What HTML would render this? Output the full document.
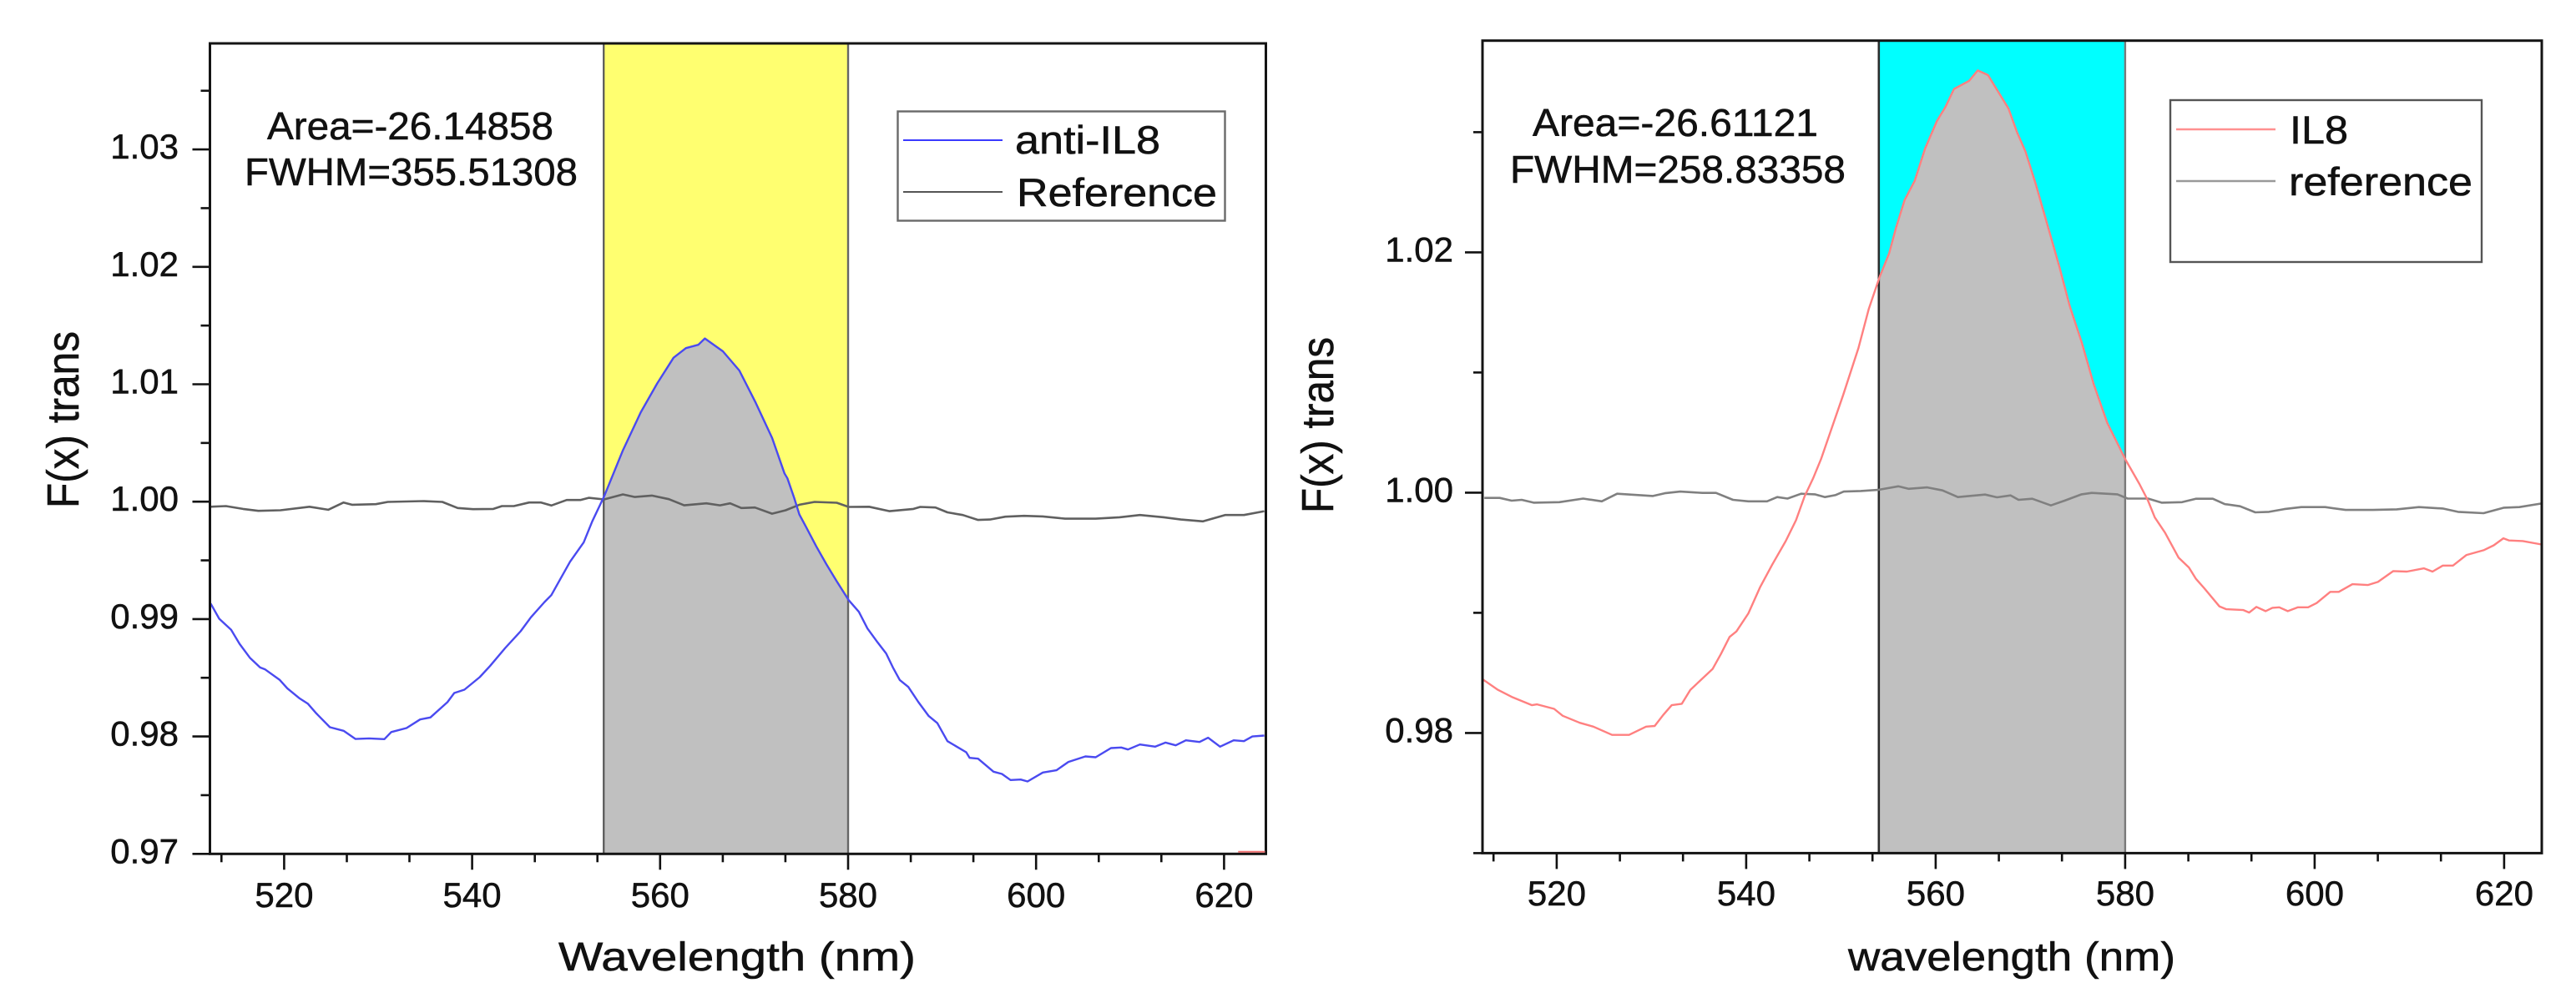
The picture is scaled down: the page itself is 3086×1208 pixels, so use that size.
<!DOCTYPE html>
<html lang="en">
<head>
<meta charset="utf-8">
<title>F(x) trans spectra: anti-IL8 and IL8</title>
<style>
html,body{margin:0;padding:0;background:#fff;width:3086px;height:1208px;overflow:hidden}
svg{display:block}
text{font-family:"Liberation Sans",Arial,sans-serif;fill:#111;stroke:#111;stroke-width:.55px}
</style>
</head>
<body>
<svg id="figure" xmlns="http://www.w3.org/2000/svg" width="3086" height="1208" viewBox="0 0 3086 1208">
  <rect width="3086" height="1208" fill="#fff"/>
  <g id="panel-left"></g>
  <g id="panel-right"></g>

  <g>
    <text x="320" y="167" font-size="46" textLength="343" lengthAdjust="spacingAndGlyphs">Area=-26.14858</text>
    <text x="293" y="222" font-size="46" textLength="399" lengthAdjust="spacingAndGlyphs">FWHM=355.51308</text>
  </g>
  <g>
    <rect x="1075.5" y="133.5" width="392" height="131" fill="#fff" stroke="#6a6a6a" stroke-width="2.4"/>
    <line x1="1082" x2="1201" y1="168" y2="168" stroke="#3a3aff" stroke-width="2"/>
    <line x1="1082" x2="1201" y1="230" y2="230" stroke="#555" stroke-width="2"/>
    <text x="1216" y="184" font-size="47" textLength="174" lengthAdjust="spacingAndGlyphs">anti-IL8</text>
    <text x="1218" y="247" font-size="47" textLength="240" lengthAdjust="spacingAndGlyphs">Reference</text>
  </g>
  <text x="669" y="1163" font-size="48" textLength="428" lengthAdjust="spacingAndGlyphs">Wavelength (nm)</text>
  <text transform="translate(94 609) rotate(-90)" font-size="54" textLength="212" lengthAdjust="spacingAndGlyphs">F(x) trans</text>

  <g>
    <text x="1836" y="163" font-size="46" textLength="342" lengthAdjust="spacingAndGlyphs">Area=-26.61121</text>
    <text x="1809" y="219" font-size="46" textLength="402" lengthAdjust="spacingAndGlyphs">FWHM=258.83358</text>
  </g>
  <g>
    <rect x="2600" y="120" width="373" height="194" fill="#fff" stroke="#555" stroke-width="2.4"/>
    <line x1="2607" x2="2726" y1="155" y2="155" stroke="#ff9090" stroke-width="2.6"/>
    <line x1="2607" x2="2726" y1="217" y2="217" stroke="#999" stroke-width="2.6"/>
    <text x="2743" y="172" font-size="47" textLength="70" lengthAdjust="spacingAndGlyphs">IL8</text>
    <text x="2742" y="234" font-size="47" textLength="220" lengthAdjust="spacingAndGlyphs">reference</text>
  </g>
  <text x="2214" y="1163" font-size="48" textLength="392" lengthAdjust="spacingAndGlyphs">wavelength (nm)</text>
  <text transform="translate(1597 615) rotate(-90)" font-size="54" textLength="211" lengthAdjust="spacingAndGlyphs">F(x) trans</text>
</svg>

<script>
// ---------- shared axis data ----------
const xMajorTicks = [520, 540, 560, 580, 600, 620];
const xTickLabels = ['520', '540', '560', '580', '600', '620'];
const xMinorTicks = [513.33, 526.67, 533.33, 546.67, 553.33, 566.67, 573.33, 586.67, 593.33, 606.67, 613.33];
const bandRange = [554, 580];

// ---------- left panel data ----------
const leftYMajorTicks = [0.97, 0.98, 0.99, 1.00, 1.01, 1.02, 1.03];
const leftYTickLabels = ['0.97', '0.98', '0.99', '1.00', '1.01', '1.02', '1.03'];
const leftYMinorTicks = [0.975, 0.985, 0.995, 1.005, 1.015, 1.025, 1.035];

const antiIl8Wavelengths = [512.18,513.09,514.36,515.26,516.35,517.44,517.98,519.54,520.34,521.6,522.51,523.42,524.87,526.32,527.59,529.04,530.67,531.39,533.02,534.47,535.56,537.37,538.1,539.18,540.81,541.9,543.53,545.16,546.25,547.7,548.43,549.33,550.42,551.87,552.78,554.04,556.01,557.94,559.69,561.43,562.74,564.06,564.76,566.68,568.43,570.17,571.92,573.23,573.54,574.26,574.81,575.53,576.62,577.71,578.79,580.06,581.15,582.06,583.14,584.05,584.77,585.5,586.4,587.49,588.58,589.49,590.57,592.57,592.93,593.83,595.47,596.37,597.28,598.37,599.09,600.72,602.17,603.44,605.25,606.34,607.97,609.06,609.78,611.05,612.68,613.77,614.86,615.94,617.39,618.3,619.57,621.02,622.11,623.01,624.28];
const antiIl8Values = [0.99133,0.99003,0.98908,0.98789,0.98671,0.98588,0.98571,0.98481,0.9841,0.98327,0.9828,0.98197,0.98079,0.98048,0.97979,0.97984,0.97977,0.98038,0.98072,0.98145,0.98162,0.98292,0.9837,0.98399,0.98505,0.986,0.98754,0.98896,0.99015,0.99145,0.99204,0.99334,0.99488,0.99654,0.99832,1.00045,1.00432,1.00761,1.01007,1.01226,1.01308,1.01336,1.0139,1.01281,1.01117,1.00843,1.00542,1.00241,1.00199,1.00033,0.99891,0.99784,0.99619,0.99465,0.99322,0.99161,0.99062,0.9892,0.98801,0.98707,0.98588,0.98481,0.98422,0.98292,0.98174,0.98114,0.9796,0.97866,0.97818,0.97811,0.977,0.97681,0.97629,0.97633,0.97617,0.97693,0.97712,0.97783,0.9783,0.97823,0.97901,0.97906,0.97889,0.97932,0.97913,0.97948,0.97925,0.97967,0.97953,0.97989,0.97913,0.97967,0.9796,0.98,0.98008];

const leftRefWavelengths = [512.18,513.81,515.62,517.26,519.61,522.69,524.69,526.32,527.22,529.76,531.03,534.83,536.83,538.46,540.09,542.26,543.17,544.44,546.07,547.34,548.43,550.06,551.51,552.41,554.04,556.04,557.31,559.12,560.93,562.56,564.92,566.37,567.45,568.64,570.09,571.91,573.36,574.81,576.44,578.79,580.06,582.24,584.41,586.95,587.67,589.3,590.57,592.2,593.83,595.1,596.73,598.73,600.72,603.08,606.34,608.88,611.05,613.59,615.4,617.76,620.11,622.11,624.28];
const leftRefValues = [0.99957,0.99962,0.99938,0.99922,0.99927,0.99957,0.99931,0.99993,0.99974,0.99979,0.99998,1.00005,0.99998,0.99946,0.99936,0.99938,0.99962,0.99962,0.99993,0.99993,0.99967,1.00014,1.00014,1.00033,1.00019,1.00062,1.0004,1.00052,1.00021,0.99969,0.99986,0.99969,0.99986,0.99946,0.9995,0.99898,0.99927,0.99974,0.99998,0.99991,0.99955,0.99957,0.99919,0.99938,0.99955,0.9995,0.99909,0.99886,0.99844,0.99848,0.99872,0.99879,0.99874,0.99855,0.99855,0.99867,0.99886,0.99867,0.99848,0.99832,0.99886,0.99886,0.99919];

// ---------- right panel data ----------
const rightYMajorTicks = [0.98, 1.00, 1.02];
const rightYTickLabels = ['0.98', '1.00', '1.02'];
const rightYMinorTicks = [0.97, 0.99, 1.01, 1.03];

const il8Wavelengths = [512.18,513.8,515.24,517.39,517.93,519.73,520.63,522.43,523.87,525.84,527.64,529.44,530.34,531.24,532.14,533.21,534.11,536.45,537.35,538.25,538.97,540.23,541.48,542.74,544.18,545.26,546.16,547.06,547.9,550.24,551.86,552.94,554.09,555.09,555.81,556.71,557.79,558.87,560.13,561.03,561.93,563.54,564.44,565.52,566.42,567.68,568.58,569.48,570.55,571.81,573.07,574.15,575.41,576.67,578.11,580.0,581.51,582.41,583.13,584.21,585.65,586.73,587.45,588.35,589.96,590.68,592.48,593.09,593.85,594.82,595.54,596.26,597.16,598.24,599.31,600.21,601.65,602.55,603.99,605.61,606.68,608.3,609.74,611.54,612.44,613.52,614.6,616.03,617.83,618.91,619.92,620.53,621.97,623.95];
const il8Values = [0.98447,0.98359,0.98301,0.98231,0.98238,0.98201,0.98143,0.98085,0.98053,0.97984,0.97984,0.98053,0.98058,0.9815,0.98231,0.98243,0.98359,0.98532,0.9866,0.98799,0.98845,0.98995,0.99215,0.994,0.99597,0.99771,0.99968,1.00118,1.0028,1.00813,1.01206,1.0153,1.01796,1.01993,1.02202,1.02433,1.02595,1.02861,1.03093,1.03209,1.03359,1.03428,1.03514,1.03475,1.03359,1.03197,1.03,1.02838,1.02572,1.02225,1.01877,1.01553,1.01252,1.00905,1.00581,1.0028,1.00072,0.99933,0.99794,0.99667,0.99458,0.99377,0.99285,0.99204,0.99053,0.9903,0.99023,0.99002,0.99049,0.99014,0.99042,0.99046,0.99014,0.99046,0.99046,0.99081,0.99174,0.99174,0.99238,0.99231,0.99257,0.99347,0.99343,0.9937,0.99343,0.99393,0.99393,0.99481,0.99521,0.99562,0.9962,0.99602,0.99597,0.99569];

const rightRefWavelengths = [512.36,513.98,515.24,516.31,517.57,520.27,522.79,524.76,526.38,530.16,531.42,533.04,535.37,536.81,538.61,540.23,542.2,543.28,544.36,545.8,547.24,548.32,549.4,550.3,552.09,553.89,556.05,557.13,559.11,560.72,562.34,565.22,566.48,567.91,568.75,570.19,572.16,573.6,575.4,576.48,579.18,580.26,582.41,583.85,586.01,587.45,589.25,590.5,592.12,593.74,595.18,596.8,598.6,601.11,603.27,606.15,608.66,611,613.52,615.13,617.83,619.99,621.61,623.95];
const rightRefValues = [0.99956,0.99956,0.99933,0.9994,0.99917,0.99921,0.99951,0.99928,0.99991,0.99972,0.99995,1.00009,0.99998,0.99998,0.9994,0.99928,0.99928,0.99963,0.99951,0.99991,0.99986,0.99963,0.99979,1.00009,1.00014,1.00023,1.00053,1.00032,1.00044,1.00019,0.99963,0.99984,0.99961,0.99977,0.9994,0.99949,0.99894,0.99933,0.99986,0.99998,0.99986,0.99951,0.99951,0.99917,0.99921,0.99949,0.99949,0.99905,0.99887,0.99836,0.9984,0.99863,0.9988,0.9988,0.99856,0.99856,0.99861,0.9988,0.99868,0.9984,0.99829,0.99875,0.9988,0.9991];

// ---------- rendering ----------
const SVG_NS = 'http://www.w3.org/2000/svg';

function make(parent, tag, attrs) {
  const el = document.createElementNS(SVG_NS, tag);
  for (const k in attrs) el.setAttribute(k, attrs[k]);
  parent.appendChild(el);
  return el;
}

function makeAxes(cfg) {
  return {
    x: function (nm) { return cfg.x520 + (nm - 520) * cfg.pxPerNm; },
    y: function (v) { return cfg.bottom - (v - 0.97) * cfg.pxPerUnit; }
  };
}

function linePoints(xs, ys, ax) {
  return xs.map(function (nm, i) {
    return ax.x(nm).toFixed(1) + ',' + ax.y(ys[i]).toFixed(1);
  }).join(' ');
}

function drawPanel(cfg) {
  const root = document.getElementById(cfg.rootId);
  const ax = makeAxes(cfg);
  const bandLeft = ax.x(bandRange[0]);
  const bandRight = ax.x(bandRange[1]);

  const band = make(root, 'rect', { x: bandLeft, y: cfg.top, width: bandRight - bandLeft, height: cfg.bottom - cfg.top, fill: cfg.bandColor });
  
  

  const clip = make(root, 'clipPath', { id: cfg.rootId + '-clip' });
  make(clip, 'rect', { x: bandLeft, y: cfg.top, width: bandRight - bandLeft, height: cfg.bottom - cfg.top });

  const areaPts = linePoints(cfg.seriesX, cfg.seriesY, ax)
    + ' ' + ax.x(cfg.seriesX[cfg.seriesX.length - 1]).toFixed(1) + ',' + cfg.bottom
    + ' ' + ax.x(cfg.seriesX[0]).toFixed(1) + ',' + cfg.bottom;
  const area = make(root, 'polygon', { points: areaPts, fill: '#c0c0c0', 'clip-path': 'url(#' + cfg.rootId + '-clip)' });
  
  

  const edgeLeft = make(root, 'line', { x1: bandLeft, x2: bandLeft, y1: cfg.top, y2: cfg.bottom, stroke: cfg.edgeLeftColor, 'stroke-width': cfg.edgeLeftWidth });
  
  

  const edgeRight = make(root, 'line', { x1: bandRight, x2: bandRight, y1: cfg.top, y2: cfg.bottom, stroke: cfg.edgeRightColor, 'stroke-width': 2.4 });
  
  

  const refLine = make(root, 'polyline', { points: linePoints(cfg.refX, cfg.refY, ax), fill: 'none', stroke: cfg.refColor, 'stroke-width': 2.6, 'stroke-linejoin': 'round' });
  
  

  const seriesLine = make(root, 'polyline', { points: linePoints(cfg.seriesX, cfg.seriesY, ax), fill: 'none', stroke: cfg.seriesColor, 'stroke-width': 2.4, 'stroke-linejoin': 'round' });
  
  

  xMajorTicks.forEach(function (t, i) {
    const tick = make(root, 'line', { x1: ax.x(t), x2: ax.x(t), y1: cfg.bottom, y2: cfg.bottom + 19, stroke: '#111', 'stroke-width': 2.6 });
    
    
    const label = make(root, 'text', { x: ax.x(t), y: cfg.xLabelY, 'font-size': 42, 'text-anchor': 'middle' });
    label.textContent = xTickLabels[i];
    
    
  });
  xMinorTicks.forEach(function (t) {
    const tick = make(root, 'line', { x1: ax.x(t), x2: ax.x(t), y1: cfg.bottom, y2: cfg.bottom + 10, stroke: '#111', 'stroke-width': 2.6 });
    
    
  });
  cfg.yMajor.forEach(function (t, i) {
    const tick = make(root, 'line', { x1: cfg.left - 21, x2: cfg.left, y1: ax.y(t), y2: ax.y(t), stroke: '#111', 'stroke-width': 2.6 });
    
    
    const label = make(root, 'text', { x: cfg.yLabelRight, y: ax.y(t) + 11, 'font-size': 42, 'text-anchor': 'end' });
    label.textContent = cfg.yLabels[i];
    
    
  });
  cfg.yMinor.forEach(function (t) {
    const tick = make(root, 'line', { x1: cfg.left - 11, x2: cfg.left, y1: ax.y(t), y2: ax.y(t), stroke: '#111', 'stroke-width': 2.6 });
    
    
  });

  const frame = make(root, 'rect', { x: cfg.left, y: cfg.top, width: cfg.right - cfg.left, height: cfg.bottom - cfg.top, fill: 'none', stroke: '#141414', 'stroke-width': 3 });
  
  

  if (cfg.strayRed) {
    const stray = make(root, 'line', { x1: ax.x(621.5), x2: cfg.right - 1, y1: cfg.bottom - 2.5, y2: cfg.bottom - 2.5, stroke: '#f07070', 'stroke-width': 2 });
    
    
  }
}

drawPanel({
  rootId: 'panel-left', left: 251.5, right: 1516.5, top: 52, bottom: 1023.3,
  x520: 340.4, pxPerNm: 11.26, pxPerUnit: 14070,
  bandColor: '#ffff70', edgeLeftColor: '#555', edgeLeftWidth: 2.2, edgeRightColor: '#666',
  seriesX: antiIl8Wavelengths, seriesY: antiIl8Values, seriesColor: '#4a4af0', seriesName: 'anti-il8-line',
  refX: leftRefWavelengths, refY: leftRefValues, refColor: '#606060',
  yMajor: leftYMajorTicks, yLabels: leftYTickLabels, yMinor: leftYMinorTicks,
  yLabelRight: 214, xLabelY: 1087, strayRed: true
});

drawPanel({
  rootId: 'panel-right', left: 1776, right: 3045, top: 48.7, bottom: 1022.4,
  x520: 1864.9, pxPerNm: 11.35, pxPerUnit: 14400,
  bandColor: '#00ffff', edgeLeftColor: '#2c2c2c', edgeLeftWidth: 2.6, edgeRightColor: '#7a7a7a',
  seriesX: il8Wavelengths, seriesY: il8Values, seriesColor: '#ff8080', seriesName: 'il8-line',
  refX: rightRefWavelengths, refY: rightRefValues, refColor: '#808080',
  yMajor: rightYMajorTicks, yLabels: rightYTickLabels, yMinor: rightYMinorTicks,
  yLabelRight: 1741, xLabelY: 1085, strayRed: false
});
</script>
</body>
</html>
